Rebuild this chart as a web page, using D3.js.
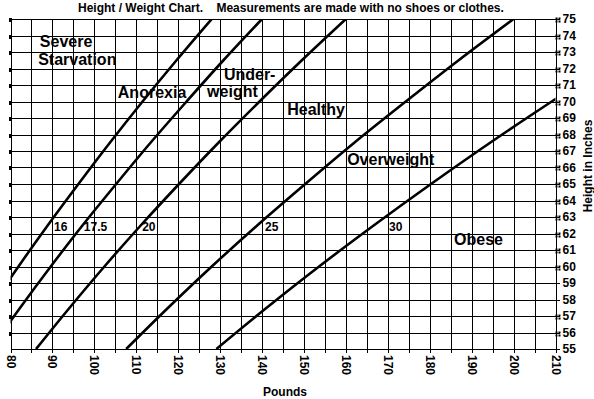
<!DOCTYPE html>
<html><head><meta charset="utf-8">
<script src="https://cdn.jsdelivr.net/npm/d3@7"></script>
<style>
body{margin:0;background:#fff;}
svg{display:block;font-family:"Liberation Sans",Arial,sans-serif;}
text{font-weight:bold;fill:#000;}
</style></head><body>
<svg id="c" width="594" height="399"></svg>
<script>
// Heights (inches) at which line weights were read
const heights = [55, 57.5, 60, 62.5, 65, 67.5, 70, 72.5, 75];
// Weight (lb) of each BMI line at those heights
const bmi16   = [68.8, 75.2, 81.9, 88.9, 96.2, 103.7, 111.5, 119.6, 128.0];
const bmi17_5 = [75.3, 82.3, 89.6, 97.2, 105.2, 113.4, 122.0, 130.8, 140.0];
const bmi20   = [86.1, 94.1, 102.4, 111.1, 120.2, 129.6, 139.4, 149.5, 160.0];
const bmi25   = [107.6, 117.6, 128.0, 138.9, 150.3, 162.0, 174.3, 186.9, 200.0];
const bmi30   = [129.1, 141.1, 153.6, 166.7, 180.3, 194.4, 209.1, 224.3, 240.0];
const lineSeries = [bmi16, bmi17_5, bmi20, bmi25, bmi30];
const lineLabels = ["16", "17.5", "20", "25", "30"];
// label anchor: [weight, height]
const lineLabelPos = [[90.4, 62.15], [97.5, 62.15], [111.4, 62.15], [140.7, 62.15], [170.3, 62.15]];
const zones = ["Severe", "Starvation", "Anorexia", "Under-", "weight", "Healthy", "Overweight", "Obese"];
const zonePos = [[87.0, 73.3], [86.6, 72.2], [105.6, 70.2], [130.9, 71.3], [126.9, 70.25], [146.0, 69.2], [160.3, 66.15], [185.8, 61.3]];
const xTicks = [80, 90, 100, 110, 120, 130, 140, 150, 160, 170, 180, 190, 200, 210];
const yTicks = [55,56,57,58,59,60,61,62,63,64,65,66,67,68,69,70,71,72,73,74,75];
const markerHeights = [56,57,60,61,62,63,64,65,66,67,68,69,70,71,72,73,74,75];
const leftMarkers = [56,57,58,59,60,61,62,63,64,65,66,67,68,69,70,71,72,73,74,75];
const title = "Height / Weight Chart.    Measurements are made with no shoes or clothes.";

const svg = d3.select("#c");
const L = 10.5, R = 555.5, T = 19, B = 349;
const x = d3.scaleLinear().domain([80, 210]).range([L, R]);
const y = d3.scaleLinear().domain([55, 75]).range([B, T]);
const narrow = "'Liberation Sans Narrow','Arial Narrow','Liberation Sans',Arial,sans-serif";

// grid
const g = svg.append("g").attr("stroke", "#000").attr("stroke-width", 1).attr("shape-rendering", "crispEdges");
g.selectAll(".v").data(d3.range(80, 211, 5)).join("line")
  .attr("x1", d => Math.round(x(d)) + 0.5).attr("x2", d => Math.round(x(d)) + 0.5)
  .attr("y1", T).attr("y2", B + 4);
g.selectAll(".h").data(yTicks).join("line")
  .attr("x1", L).attr("x2", R + 4)
  .attr("y1", d => Math.round(y(d)) + 0.5).attr("y2", d => Math.round(y(d)) + 0.5);

// left markers
svg.append("g").selectAll("rect").data(leftMarkers).join("rect")
  .attr("x", Math.round(L) - 2).attr("y", d => Math.round(y(d)) - 1)
  .attr("width", 3).attr("height", 4).attr("fill", "#000");
// right markers
const rm = svg.append("g");
markerHeights.forEach(h => {
  [[-1.5, -1.5], [1.5, -1.5], [-1.5, 1.5], [1.5, 1.5]].forEach(o => {
    rm.append("rect").attr("x", Math.round(x(210)) + 1 + o[0]).attr("y", Math.round(y(h)) + o[1])
      .attr("width", 2).attr("height", 2).attr("fill", "#000");
  });
});

// BMI lines
svg.append("clipPath").attr("id", "clip").append("rect")
  .attr("x", L).attr("y", T).attr("width", R - L).attr("height", B - T);
const line = d3.line().x(d => x(d[0])).y(d => y(d[1])).curve(d3.curveMonotoneY);
svg.append("g").attr("clip-path", "url(#clip)").selectAll("path").data(lineSeries).join("path")
  .attr("d", s => line(s.map((w, i) => [w, heights[i]])))
  .attr("fill", "none").attr("stroke", "#000").attr("stroke-width", 2.6);

// line labels
svg.append("g").selectAll("text").data(lineLabels).join("text")
  .attr("x", (d, i) => x(lineLabelPos[i][0])).attr("y", (d, i) => y(lineLabelPos[i][1]))
  .attr("font-size", 12).attr("font-family", narrow)
  .text(d => d);

// zone labels
svg.append("g").selectAll("text").data(zones).join("text")
  .attr("x", (d, i) => x(zonePos[i][0])).attr("y", (d, i) => y(zonePos[i][1]))
  .attr("font-size", 16).text(d => d);

// x tick labels (rotated)
svg.append("g").selectAll("text").data(xTicks).join("text")
  .attr("transform", d => `translate(${x(d) - 4},355) rotate(90)`)
  .attr("font-size", 12).attr("font-family", narrow)
  .text(d => d);

// y tick labels right
svg.append("g").selectAll("text").data(yTicks).join("text")
  .attr("x", R + 7).attr("y", d => y(d) + 4)
  .attr("font-size", 12).attr("font-family", narrow)
  .text(d => d);

// titles
svg.append("text").attr("x", 78).attr("y", 12).attr("font-size", 12)
  .style("white-space", "pre").text(title);
svg.append("text").attr("x", 285).attr("y", 396).attr("text-anchor", "middle").attr("font-size", 12).text("Pounds");
svg.append("text").attr("transform", "translate(592,166) rotate(-90)").attr("text-anchor", "middle")
  .attr("font-size", 12).text("Height in Inches");
</script></body></html>
